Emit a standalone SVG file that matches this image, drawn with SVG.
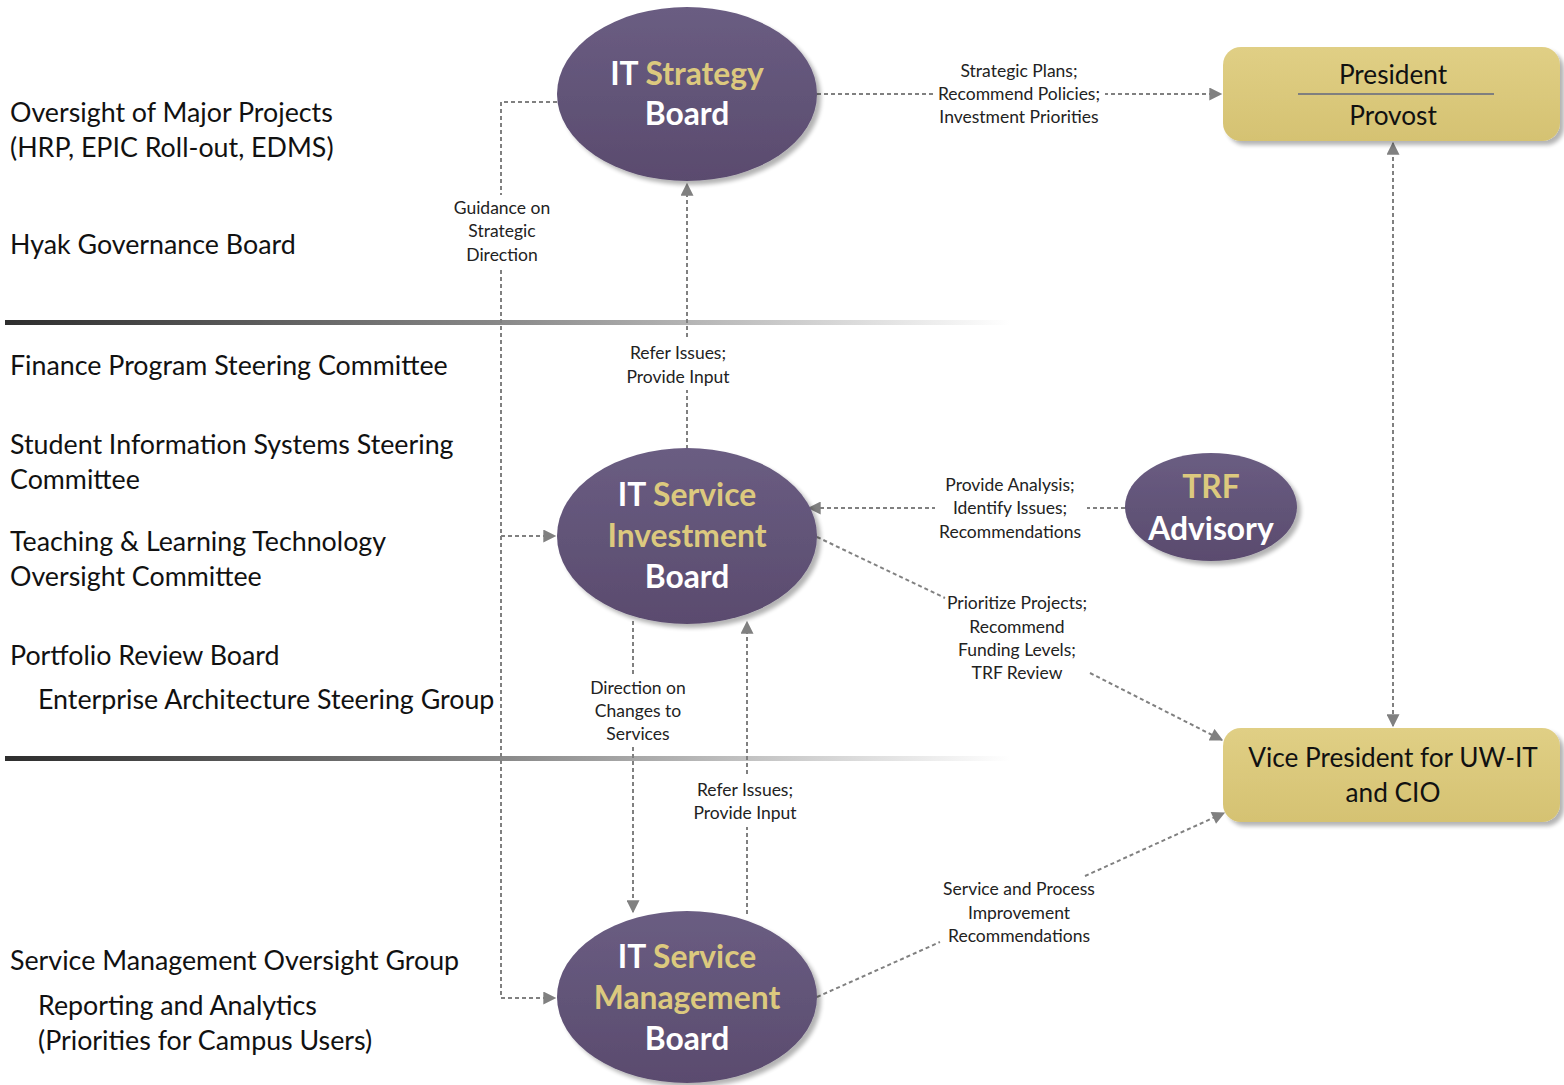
<svg xmlns="http://www.w3.org/2000/svg" width="1564" height="1085" viewBox="0 0 1564 1085">
<style>
.side{font-family:Lato,"Open Sans","Liberation Sans",sans-serif;font-size:26.8px;fill:#111}
.lbl{font-family:Lato,"Open Sans","Liberation Sans",sans-serif;font-size:17.5px;fill:#222;text-anchor:middle}
.nt{font-family:Lato,"Open Sans","Liberation Sans",sans-serif;font-size:31.8px;font-weight:bold;fill:#fff;text-anchor:middle}
.gold{fill:#dcc97e}
.bt{font-family:Lato,"Open Sans","Liberation Sans",sans-serif;font-size:26.2px;fill:#111;text-anchor:middle}
.ell{fill:url(#pg);filter:url(#sh)}
.box{fill:url(#gg);filter:url(#sh)}
.con{fill:none;stroke:#808080;stroke-width:2;stroke-dasharray:4 3}
</style>
<defs>
<linearGradient id="pg" x1="0" y1="0" x2="0" y2="1"><stop offset="0" stop-color="#6a5d82"/><stop offset="1" stop-color="#5a4b6e"/></linearGradient>
<linearGradient id="gg" x1="0" y1="0" x2="0" y2="1"><stop offset="0" stop-color="#e0cf85"/><stop offset="1" stop-color="#d5c272"/></linearGradient>
<linearGradient id="sep" x1="0" y1="0" x2="1" y2="0"><stop offset="0" stop-color="#2e2e2e"/><stop offset="0.5" stop-color="#8a8a8a"/><stop offset="1" stop-color="#ffffff"/></linearGradient>
<filter id="sh" x="-10%" y="-10%" width="125%" height="125%"><feGaussianBlur in="SourceAlpha" stdDeviation="2"/><feOffset dx="4" dy="4"/><feComponentTransfer><feFuncA type="linear" slope="0.3"/></feComponentTransfer><feMerge><feMergeNode/><feMergeNode in="SourceGraphic"/></feMerge></filter>
<marker id="ah" viewBox="0 0 10 10" refX="9" refY="5" markerWidth="14" markerHeight="13" markerUnits="userSpaceOnUse" orient="auto-start-reverse"><path d="M0,0 L10,5 L0,10 z" fill="#808080"/></marker>
</defs>
<rect width="1564" height="1085" fill="#fff"/>
<g id="separators">
<rect x="5" y="320" width="1005" height="5" fill="url(#sep)"/>
<rect x="5" y="756" width="1005" height="5" fill="url(#sep)"/>
</g>
<g id="side-text">
<text class="side" x="10" y="122">Oversight of Major Projects</text>
<text class="side" x="10" y="157">(HRP, EPIC Roll-out, EDMS)</text>
<text class="side" x="10" y="254">Hyak Governance Board</text>
<text class="side" x="10" y="375">Finance Program Steering Committee</text>
<text class="side" x="10" y="454">Student Information Systems Steering</text>
<text class="side" x="10" y="489">Committee</text>
<text class="side" x="10" y="551">Teaching &amp; Learning Technology</text>
<text class="side" x="10" y="586">Oversight Committee</text>
<text class="side" x="10" y="665">Portfolio Review Board</text>
<text class="side" x="38" y="709">Enterprise Architecture Steering Group</text>
<text class="side" x="10" y="970">Service Management Oversight Group</text>
<text class="side" x="38" y="1015">Reporting and Analytics</text>
<text class="side" x="38" y="1050">(Priorities for Campus Users)</text>
</g>
<g id="connectors">
<path class="con" d="M817,94 H1221" marker-end="url(#ah)"/>
<path class="con" d="M557,102 H501 V998 H555" marker-end="url(#ah)"/>
<path class="con" d="M501,536 H555" marker-end="url(#ah)"/>
<path class="con" d="M687,449 V184" marker-end="url(#ah)"/>
<path class="con" d="M1125,508 H809" marker-end="url(#ah)"/>
<path class="con" d="M817,537 L945,598 M1090,673 L1222,740" marker-end="url(#ah)"/>
<path class="con" d="M1393,143 V726" marker-start="url(#ah)" marker-end="url(#ah)"/>
<path class="con" d="M633,621 V912" marker-end="url(#ah)"/>
<path class="con" d="M747,914 V622" marker-end="url(#ah)"/>
<path class="con" d="M817,997 L940,942 M1085,876 L1224,813" marker-end="url(#ah)"/>
</g>
<g id="connector-labels">
<rect x="935" y="58" width="170" height="70" fill="#fff"/>
<text class="lbl" x="1019" y="77">Strategic Plans;</text>
<text class="lbl" x="1019" y="100">Recommend Policies;</text>
<text class="lbl" x="1019" y="123">Investment Priorities</text>
<rect x="450" y="195" width="104" height="72" fill="#fff"/>
<text class="lbl" x="502" y="214">Guidance on</text>
<text class="lbl" x="502" y="237">Strategic</text>
<text class="lbl" x="502" y="261">Direction</text>
<rect x="622" y="340" width="114" height="50" fill="#fff"/>
<text class="lbl" x="678" y="359">Refer Issues;</text>
<text class="lbl" x="678" y="383">Provide Input</text>
<rect x="935" y="472" width="152" height="72" fill="#fff"/>
<text class="lbl" x="1010" y="491">Provide Analysis;</text>
<text class="lbl" x="1010" y="514">Identify Issues;</text>
<text class="lbl" x="1010" y="538">Recommendations</text>
<text class="lbl" x="1017" y="609">Prioritize Projects;</text>
<text class="lbl" x="1017" y="633">Recommend</text>
<text class="lbl" x="1017" y="656">Funding Levels;</text>
<text class="lbl" x="1017" y="679">TRF Review</text>
<rect x="585" y="675" width="106" height="72" fill="#fff"/>
<text class="lbl" x="638" y="694">Direction on</text>
<text class="lbl" x="638" y="717">Changes to</text>
<text class="lbl" x="638" y="740">Services</text>
<rect x="690" y="777" width="112" height="50" fill="#fff"/>
<text class="lbl" x="745" y="796">Refer Issues;</text>
<text class="lbl" x="745" y="819">Provide Input</text>
<text class="lbl" x="1019" y="895">Service and Process</text>
<text class="lbl" x="1019" y="919">Improvement</text>
<text class="lbl" x="1019" y="942">Recommendations</text>
</g>
<g id="it-strategy-board">
<ellipse class="ell" cx="687" cy="94" rx="130" ry="87"/>
<text class="nt" x="687" y="85">IT <tspan class="gold">Strategy</tspan></text>
<text class="nt" x="687" y="125">Board</text>
</g>
<g id="it-service-investment-board">
<ellipse class="ell" cx="687" cy="536" rx="130" ry="88"/>
<text class="nt" x="687" y="506">IT <tspan class="gold">Service</tspan></text>
<text class="nt gold" x="687" y="547">Investment</text>
<text class="nt" x="687" y="588">Board</text>
</g>
<g id="it-service-management-board">
<ellipse class="ell" cx="687" cy="997" rx="130" ry="86"/>
<text class="nt" x="687" y="968">IT <tspan class="gold">Service</tspan></text>
<text class="nt gold" x="687" y="1009">Management</text>
<text class="nt" x="687" y="1050">Board</text>
</g>
<g id="trf-advisory">
<ellipse class="ell" cx="1211" cy="507" rx="86" ry="54"/>
<text class="nt gold" x="1211" y="498">TRF</text>
<text class="nt" x="1211" y="540">Advisory</text>
</g>
<g id="president-provost">
<rect class="box" x="1223" y="47" width="337" height="94" rx="18"/>
<line x1="1298" y1="94" x2="1494" y2="94" stroke="#7f7f7f" stroke-width="2"/>
<text class="bt" x="1393" y="84">President</text>
<text class="bt" x="1393" y="125">Provost</text>
</g>
<g id="vp-cio">
<rect class="box" x="1223" y="728" width="337" height="94" rx="18"/>
<text class="bt" x="1393" y="767">Vice President for UW-IT</text>
<text class="bt" x="1393" y="802">and CIO</text>
</g>
</svg>
